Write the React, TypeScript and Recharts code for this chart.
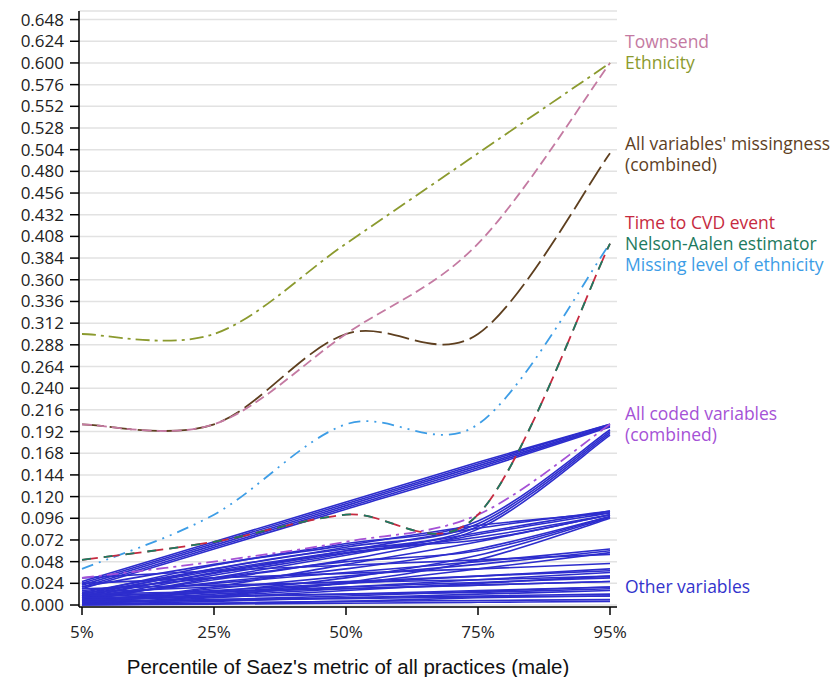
import { LineChart, Line, XAxis, YAxis, CartesianGrid } from 'recharts';

const percentiles = ['5%', '25%', '50%', '75%', '95%'];

const yTicks = [
  0, 0.024, 0.048, 0.072, 0.096, 0.12, 0.144, 0.168, 0.192, 0.216, 0.24, 0.264, 0.288, 0.312,
  0.336, 0.36, 0.384, 0.408, 0.432, 0.456, 0.48, 0.504, 0.528, 0.552, 0.576, 0.6, 0.624, 0.648,
];

const townsend = [0.2, 0.2, 0.3, 0.4, 0.6];
const ethnicity = [0.3, 0.3, 0.4, 0.5, 0.6];
const allMissingness = [0.2, 0.2, 0.3, 0.3, 0.5];
const timeToCvd = [0.05, 0.07, 0.1, 0.1, 0.4];
const nelsonAalen = [0.05, 0.07, 0.1, 0.1, 0.4];
const missingEthnicityLevel = [0.04, 0.1, 0.2, 0.2, 0.4];
const allCoded = [0.03, 0.048, 0.07, 0.1, 0.2];

// one row per variable, values at the five percentiles
const otherVariables = [
  [0.026, 0.07, 0.114, 0.158, 0.2],
  [0.024, 0.068, 0.112, 0.156, 0.2],
  [0.022, 0.066, 0.11, 0.154, 0.199],
  [0.02, 0.064, 0.108, 0.152, 0.198],
  [0.018, 0.062, 0.106, 0.15, 0.197],
  [0.01, 0.04, 0.064, 0.09, 0.192],
  [0.008, 0.036, 0.06, 0.087, 0.19],
  [0.012, 0.044, 0.068, 0.093, 0.194],
  [0.006, 0.033, 0.057, 0.084, 0.188],
  [0.004, 0.03, 0.055, 0.08, 0.104],
  [0.006, 0.028, 0.05, 0.078, 0.102],
  [0.01, 0.035, 0.058, 0.075, 0.1],
  [0.014, 0.04, 0.062, 0.072, 0.1],
  [0.002, 0.02, 0.045, 0.07, 0.1],
  [0.008, 0.025, 0.04, 0.062, 0.098],
  [0.016, 0.03, 0.048, 0.06, 0.098],
  [0.003, 0.015, 0.03, 0.055, 0.097],
  [0.012, 0.038, 0.06, 0.085, 0.104],
  [0.02, 0.045, 0.066, 0.088, 0.102],
  [0.001, 0.01, 0.025, 0.05, 0.096],
  [0.004, 0.018, 0.032, 0.045, 0.06],
  [0.01, 0.024, 0.036, 0.048, 0.062],
  [0.006, 0.014, 0.024, 0.04, 0.058],
  [0.008, 0.016, 0.024, 0.032, 0.04],
  [0.003, 0.012, 0.02, 0.028, 0.036],
  [0.014, 0.02, 0.026, 0.032, 0.038],
  [0.002, 0.008, 0.016, 0.024, 0.032],
  [0.01, 0.014, 0.02, 0.025, 0.03],
  [0.005, 0.01, 0.018, 0.022, 0.026],
  [0.002, 0.006, 0.01, 0.015, 0.02],
  [0.006, 0.009, 0.012, 0.016, 0.02],
  [0.001, 0.004, 0.008, 0.012, 0.016],
  [0.003, 0.005, 0.008, 0.01, 0.012],
  [0, 0.002, 0.004, 0.008, 0.01],
  [0.004, 0.006, 0.007, 0.009, 0.01],
  [0.001, 0.002, 0.004, 0.005, 0.006],
  [0, 0.001, 0.002, 0.003, 0.004],
  [0.008, 0.01, 0.012, 0.014, 0.018],
  [0.012, 0.015, 0.018, 0.022, 0.026],
  [0.018, 0.022, 0.025, 0.028, 0.032],
  [0.024, 0.03, 0.035, 0.04, 0.046],
  [0.03, 0.038, 0.044, 0.05, 0.056],
];

const FONT = '"Open Sans", sans-serif';
const BLUE = '#2d2dcd';

const data = percentiles.map((pct, i) => {
  const row: Record<string, number | string> = {
    pct,
    townsend: townsend[i],
    ethnicity: ethnicity[i],
    allMissingness: allMissingness[i],
    timeToCvd: timeToCvd[i],
    nelsonAalen: nelsonAalen[i],
    missingEthnicityLevel: missingEthnicityLevel[i],
    allCoded: allCoded[i],
  };
  otherVariables.forEach((v, k) => {
    row[`other${k}`] = v[i];
  });
  return row;
});

// Catmull-Rom spline (d3 curve interface), closer to the SAS spline than "natural"
function catmullRom(context: any) {
  let pts: number[][] = [];
  return {
    areaStart() {},
    areaEnd() {},
    lineStart() {
      pts = [];
    },
    point(x: number, y: number) {
      pts.push([+x, +y]);
    },
    lineEnd() {
      const n = pts.length;
      if (!n) return;
      context.moveTo(pts[0][0], pts[0][1]);
      for (let i = 0; i < n - 1; i++) {
        const p0 = pts[Math.max(i - 1, 0)];
        const p1 = pts[i];
        const p2 = pts[i + 1];
        const p3 = pts[Math.min(i + 2, n - 1)];
        context.bezierCurveTo(
          p1[0] + (p2[0] - p0[0]) / 6,
          p1[1] + (p2[1] - p0[1]) / 6,
          p2[0] - (p3[0] - p1[0]) / 6,
          p2[1] - (p3[1] - p1[1]) / 6,
          p2[0],
          p2[1],
        );
      }
    },
  };
}

// text to the right of the last point of a series
function endLabel(lines: string[], color: string, dy: number) {
  return (props: any) => {
    if (props.index !== percentiles.length - 1) return null;
    return (
      <text x={props.x + 15} y={props.y + dy} fill={color} fontSize={17.5} fontFamily={FONT}>
        {lines.map((t, i) => (
          <tspan key={i} x={props.x + 15} dy={i === 0 ? 0 : 21}>
            {t}
          </tspan>
        ))}
      </text>
    );
  };
}

export default function App() {
  return (
    <div style={{ position: 'absolute', left: 0, top: 0, background: '#fff' }}>
      <LineChart
        width={836}
        height={677}
        data={data}
        margin={{ top: 11, right: 219, left: 0, bottom: 0 }}
      >
        <CartesianGrid vertical={false} stroke="#e2e2e2" strokeWidth={1.5} />
        <XAxis
          dataKey="pct"
          height={70}
          padding={{ left: 3, right: 7 }}
          tickSize={8}
          tickMargin={11}
          tick={{ fill: '#222', fontSize: 17, fontFamily: FONT }}
          axisLine={{ stroke: '#000', strokeWidth: 1.5 }}
          tickLine={{ stroke: '#000', strokeWidth: 1.5 }}
          label={{
            value: "Percentile of Saez's metric of all practices (male)",
            position: 'insideBottom',
            offset: 3,
            fill: '#111',
            fontSize: 20.5,
            fontFamily: '"Liberation Sans", Arial, sans-serif',
          }}
        />
        <XAxis
          xAxisId="frame"
          orientation="top"
          dataKey="pct"
          height={0}
          tick={false}
          tickLine={false}
          axisLine={{ stroke: '#555', strokeWidth: 2 }}
        />
        <YAxis
          width={79}
          domain={[-0.0022, 0.6575]}
          ticks={yTicks}
          interval={0}
          tickFormatter={(v: number) => v.toFixed(3)}
          tickSize={9}
          tickMargin={6}
          tick={{ fill: '#222', fontSize: 17, fontFamily: FONT }}
          axisLine={{ stroke: '#000', strokeWidth: 1.5 }}
          tickLine={{ stroke: '#000', strokeWidth: 1.5 }}
          allowDataOverflow
        />
        <YAxis
          yAxisId="frame"
          orientation="right"
          width={0}
          tick={false}
          tickLine={false}
          axisLine={{ stroke: '#000', strokeWidth: 1.5 }}
        />
        {otherVariables.map((_, k) => (
          <Line
            key={k}
            type={catmullRom as any}
            dataKey={`other${k}`}
            stroke={BLUE}
            strokeWidth={1.6}
            dot={false}
            isAnimationActive={false}
            label={k === 29 ? endLabel(['Other variables'], '#3333cc', 6) : undefined}
          />
        ))}
        <Line
          type={catmullRom as any}
          dataKey="allCoded"
          stroke="#a552d6"
          strokeWidth={1.8}
          strokeDasharray="12 5 3 5"
          dot={false}
          isAnimationActive={false}
          label={endLabel(['All coded variables', '(combined)'], '#a552d6', -4)}
        />
        <Line
          type={catmullRom as any}
          dataKey="missingEthnicityLevel"
          stroke="#3d9de6"
          strokeWidth={1.8}
          strokeDasharray="12 6 2 6 2 6"
          dot={false}
          isAnimationActive={false}
          label={endLabel(['Missing level of ethnicity'], '#3d9de6', 27)}
        />
        <Line
          type={catmullRom as any}
          dataKey="timeToCvd"
          stroke="#c62a40"
          strokeWidth={1.8}
          strokeDasharray="16 6"
          dot={false}
          isAnimationActive={false}
          label={endLabel(['Time to CVD event'], '#c62a40', -15)}
        />
        <Line
          type={catmullRom as any}
          dataKey="nelsonAalen"
          stroke="#1d7a60"
          strokeWidth={1.8}
          strokeDasharray="9 13"
          dot={false}
          isAnimationActive={false}
          label={endLabel(['Nelson-Aalen estimator'], '#1d7a60', 6)}
        />
        <Line
          type={catmullRom as any}
          dataKey="allMissingness"
          stroke="#5e3f1f"
          strokeWidth={1.8}
          strokeDasharray="22 6"
          dot={false}
          isAnimationActive={false}
          label={endLabel(["All variables' missingness", '(combined)'], '#5e3f1f', -3)}
        />
        <Line
          type={catmullRom as any}
          dataKey="townsend"
          stroke="#c47aa2"
          strokeWidth={1.8}
          strokeDasharray="10 5"
          dot={false}
          isAnimationActive={false}
          label={endLabel(['Townsend'], '#c47aa2', -15)}
        />
        <Line
          type={catmullRom as any}
          dataKey="ethnicity"
          stroke="#8b9a2e"
          strokeWidth={1.8}
          strokeDasharray="14 5 3 5"
          dot={false}
          isAnimationActive={false}
          label={endLabel(['Ethnicity'], '#8b9a2e', 6)}
        />
      </LineChart>
    </div>
  );
}
